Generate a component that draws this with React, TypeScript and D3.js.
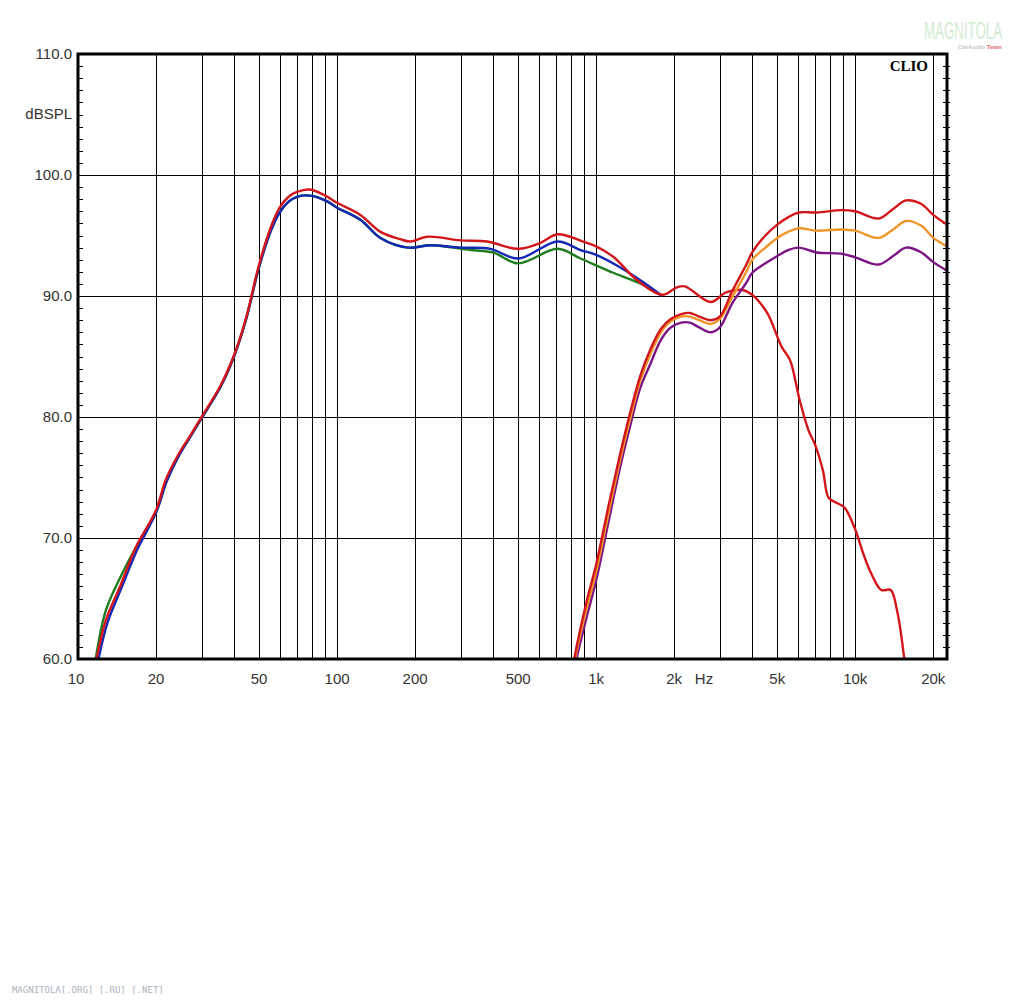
import React from 'react';
import * as d3 from 'd3';

// ---- Data ----
const wooferRedF = [11.8, 12.8, 14.6, 16.7, 20, 21.8, 24.4, 27, 30, 35.5, 40, 44.3, 50, 55.3, 60, 65, 70, 78.6, 90, 100, 123, 147, 175, 192, 223, 300, 380, 500, 610, 710, 890, 1000, 1170, 1440, 1800, 2040, 2200, 2770, 3170, 3670, 4000, 4570, 5200, 5600, 6100, 6600, 7000, 7500, 7900, 8500, 9100, 10000, 10700, 11500, 12600, 13700, 14500, 15400, 15800];
const wooferRedDb = [60, 63.2, 66.1, 69.2, 72.3, 74.8, 76.9, 78.4, 80.0, 82.6, 85.1, 88.0, 92.6, 95.6, 97.3, 98.2, 98.6, 98.8, 98.3, 97.7, 96.7, 95.3, 94.7, 94.5, 94.9, 94.6, 94.5, 93.9, 94.4, 95.1, 94.5, 94.1, 93.2, 91.3, 90.1, 90.7, 90.8, 89.5, 90.3, 90.5, 90.1, 88.6, 85.8, 84.7, 81.4, 78.9, 77.7, 75.6, 73.3, 72.9, 72.5, 70.7, 68.8, 67.1, 65.7, 65.7, 64.0, 60.3, 58];

const wooferBlueF = [12, 13, 14.8, 16.9, 20, 22, 24.5, 27, 30, 35.5, 40, 44.3, 50, 55.3, 60, 65, 70, 78.6, 90, 100, 123, 147, 188, 230, 300, 390, 500, 710, 870, 1000, 1230, 1530, 1800];
const wooferBlueDb = [60, 63, 66, 69, 72.1, 74.7, 76.8, 78.3, 79.9, 82.5, 85.0, 87.9, 92.4, 95.3, 96.9, 97.8, 98.2, 98.3, 97.9, 97.3, 96.3, 94.8, 94.0, 94.2, 94.0, 93.9, 93.1, 94.5, 93.8, 93.4, 92.4, 91.1, 90.0];

const wooferGreenF = [11.7, 12.8, 14.6, 16.9, 20, 22, 24.5, 27, 30, 35.5, 40, 44.3, 50, 55.3, 60, 65, 70, 78.6, 90, 100, 123, 147, 188, 230, 327, 400, 500, 710, 870, 1170, 1530, 1800];
const wooferGreenDb = [60, 64, 66.8, 69.4, 72.1, 74.7, 76.8, 78.3, 79.9, 82.5, 85.0, 87.9, 92.4, 95.3, 96.9, 97.8, 98.2, 98.3, 97.9, 97.3, 96.3, 94.8, 94.0, 94.2, 93.8, 93.6, 92.7, 93.9, 93.1, 91.9, 90.9, 90.0];

const tweeterF = [800, 840, 920, 1000, 1120, 1230, 1340, 1480, 1620, 1780, 1940, 2130, 2300, 2500, 2770, 3000, 3350, 3800, 4000, 4500, 5000, 5500, 6050, 7100, 8800, 10000, 12300, 14000, 15700, 18000, 20000, 22600];
const tweeterPurpleDb = [57.5, 60, 63.5, 66.5, 71.5, 75.6, 78.9, 82.4, 84.4, 86.4, 87.4, 87.8, 87.8, 87.4, 87.0, 87.4, 89.4, 91.1, 91.9, 92.7, 93.3, 93.8, 94.0, 93.6, 93.5, 93.2, 92.6, 93.3, 94.0, 93.6, 92.8, 92.1];
const tweeterOrangeDb = [58, 60.6, 64.2, 67.2, 72.2, 76.2, 79.5, 83.0, 85.2, 87.0, 87.9, 88.3, 88.3, 88.0, 87.7, 88.1, 89.9, 92.0, 93.0, 94.0, 94.8, 95.3, 95.6, 95.4, 95.5, 95.4, 94.8, 95.5, 96.2, 95.8, 94.8, 94.1];
const tweeterRedDb = [58.5, 61, 64.8, 67.8, 72.8, 76.7, 80.0, 83.4, 85.6, 87.3, 88.1, 88.5, 88.6, 88.3, 88.0, 88.3, 90.4, 92.6, 93.6, 95.0, 95.9, 96.5, 96.9, 96.9, 97.1, 97.0, 96.4, 97.2, 97.9, 97.6, 96.7, 95.9];

const yTickValues = [60, 70, 80, 90, 100, 110];
const xLabelFreqs = [10, 20, 50, 100, 200, 500, 1000, 2000, 5000, 10000, 20000];
const xLabelTexts = ['10', '20', '50', '100', '200', '500', '1k', '2k', '5k', '10k', '20k'];
const gridFreqs = [20, 30, 40, 50, 60, 70, 80, 90, 100, 200, 300, 400, 500, 600, 700, 800, 900, 1000, 2000, 3000, 4000, 5000, 6000, 7000, 8000, 9000, 10000, 20000];

const L = 78, R = 947, T = 54, B = 659;

export default function App() {
  const x = d3.scaleLog().domain([10, 22600]).range([L, R]);
  const y = d3.scaleLinear().domain([60, 110]).range([B, T]);
  const line = (fs: number[], ds: number[]) =>
    d3.line<number>().x((_, i) => x(fs[i])).y((d) => y(d)).curve(d3.curveCatmullRom.alpha(0.5))(ds) || '';

  const curves = [
    { f: wooferGreenF, d: wooferGreenDb, c: '#1e7d1e' },
    { f: wooferBlueF, d: wooferBlueDb, c: '#1428b4' },
    { f: wooferRedF, d: wooferRedDb, c: '#d2161a' },
    { f: tweeterF, d: tweeterPurpleDb, c: '#7d1485' },
    { f: tweeterF, d: tweeterOrangeDb, c: '#ee962a' },
    { f: tweeterF, d: tweeterRedDb, c: '#d2161a' },
  ];
  const minor = d3.range(61, 110);
  const font = '"Liberation Sans", Arial, sans-serif';

  return (
    <svg width={1024} height={1000} style={{ position: 'absolute', left: 0, top: 0, display: 'block', background: '#fff' }}>
      <defs>
        <clipPath id="plot">
          <rect x={L} y={T} width={R - L} height={B - T} />
        </clipPath>
      </defs>
      <rect x={0} y={0} width={1024} height={1000} fill="#fff" />
      {/* grid */}
      {gridFreqs.map((f) => (
        <line key={'v' + f} x1={Math.round(x(f)) + 0.5} x2={Math.round(x(f)) + 0.5} y1={T} y2={B} stroke="#000" strokeWidth={1} />
      ))}
      {[70, 80, 90, 100].map((v) => (
        <line key={'h' + v} x1={L} x2={R} y1={Math.round(y(v)) + 0.5} y2={Math.round(y(v)) + 0.5} stroke="#000" strokeWidth={1} />
      ))}
      {minor.map((v) => (
        <g key={'m' + v}>
          <line x1={L} x2={L + 5} y1={Math.round(y(v)) + 0.5} y2={Math.round(y(v)) + 0.5} stroke="#000" />
          <line x1={R - 4} x2={R + 3} y1={Math.round(y(v)) + 0.5} y2={Math.round(y(v)) + 0.5} stroke="#000" />
        </g>
      ))}
      {/* curves */}
      <g clipPath="url(#plot)">
        {curves.map((c, i) => (
          <path key={i} d={line(c.f, c.d)} fill="none" stroke={c.c} strokeWidth={2.4} strokeLinejoin="round" />
        ))}
      </g>
      {/* frame */}
      <rect x={L} y={T} width={R - L} height={B - T} fill="none" stroke="#000" strokeWidth={3} />
      {/* y labels */}
      {yTickValues.map((v) => (
        <text key={'yl' + v} x={72} y={y(v) + 5} textAnchor="end" fontFamily={font} fontSize={15} fill="#333">
          {v.toFixed(1)}
        </text>
      ))}
      <text x={72} y={119} textAnchor="end" fontFamily={font} fontSize={15} fill="#333">dBSPL</text>
      {/* x labels */}
      {xLabelFreqs.map((f, i) => (
        <text key={'xl' + f} x={x(f) - (i === 0 ? 2 : 0)} y={684} textAnchor="middle" fontFamily={font} fontSize={15} fill="#333">
          {xLabelTexts[i]}
        </text>
      ))}
      <text x={704} y={684} textAnchor="middle" fontFamily={font} fontSize={15} fill="#333">Hz</text>
      {/* CLIO */}
      <text x={928} y={71} textAnchor="end" fontFamily='"Liberation Serif", "Times New Roman", serif' fontWeight="bold" fontSize={15} fill="#000">CLIO</text>
      {/* watermarks */}
      <text transform="translate(924,39) scale(0.95,1.75)" fontFamily={font} fontSize={14} fill="#d2ead2">MAGNITOLA</text>
      <text x={958} y={49} fontFamily={font} fontSize={6} fontWeight="bold" fill="#c4c4c4">CarAudio <tspan fill="#e07070">Team</tspan></text>
      <text x={12} y={993} fontFamily='"DejaVu Sans Mono", monospace' fontSize={9} fill="#a8b4c0">MAGNITOLA[.ORG] [.RU] [.NET]</text>
    </svg>
  );
}
